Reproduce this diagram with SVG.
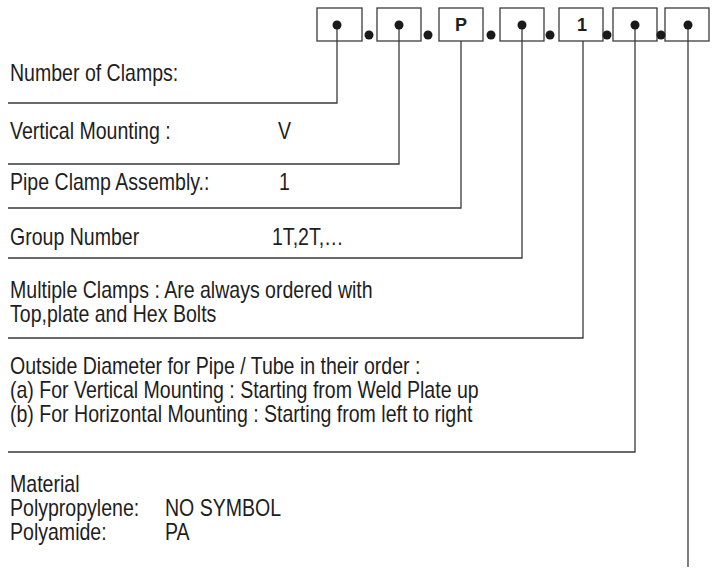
<svg xmlns="http://www.w3.org/2000/svg" width="716" height="570" viewBox="0 0 716 570">
<style>
.box{fill:#fff;stroke:#3c3c3c;stroke-width:1.3}
.dot{fill:#1a1a1a}
.ln{fill:none;stroke:#3a3a3a;stroke-width:1.3}
.t{font-family:"Liberation Sans",Arial,sans-serif;font-size:23px;fill:#1e1e1e}
.b{font-family:"Liberation Sans",Arial,sans-serif;font-size:18px;font-weight:bold;fill:#1e1e1e;text-anchor:middle}
</style>
<rect width="716" height="570" fill="#fff"/>
<g id="code">
<g id="box1"><rect class="box" x="317" y="8" width="45" height="33"/></g>
<g id="box2"><rect class="box" x="377" y="8" width="44" height="33"/></g>
<g id="box3"><rect class="box" x="439" y="8" width="44" height="33"/><text class="b" x="461" y="31">P</text></g>
<g id="box4"><rect class="box" x="500" y="8" width="44" height="33"/></g>
<g id="box5"><rect class="box" x="559" y="8" width="44" height="33"/><text class="b" x="582" y="31">1</text></g>
<g id="box6"><rect class="box" x="613" y="8" width="44" height="33"/></g>
<g id="box7"><rect class="box" x="665" y="8" width="44" height="33"/></g>
</g>
<g id="connectors">
<path class="ln" d="M337,25 V103 H8"/>
<path class="ln" d="M399,25 V164 H8"/>
<path class="ln" d="M461,41 V208 H8"/>
<path class="ln" d="M522,25 V258 H8"/>
<path class="ln" d="M583,41 V338 H8"/>
<path class="ln" d="M635,25 V452 H8"/>
<path class="ln" d="M688,25 V567"/>
</g>
<g id="dots">
<circle class="dot" cx="337" cy="25" r="4.5"/>
<circle class="dot" cx="399" cy="25" r="4.5"/>
<circle class="dot" cx="522" cy="25" r="4.5"/>
<circle class="dot" cx="635" cy="25" r="4.5"/>
<circle class="dot" cx="688" cy="25" r="4.5"/>
<circle class="dot" cx="369" cy="35" r="4.5"/>
<circle class="dot" cx="428" cy="35" r="4.5"/>
<circle class="dot" cx="491" cy="35" r="4.5"/>
<circle class="dot" cx="550" cy="35" r="4.5"/>
<circle class="dot" cx="607" cy="35" r="4.5"/>
<circle class="dot" cx="661" cy="35" r="4.5"/>
</g>
<g id="n1"><text class="t" transform="translate(10 81) scale(0.85 1)">Number of Clamps:</text></g>
<g id="n2"><text class="t" transform="translate(10 139) scale(0.85 1)">Vertical Mounting :</text><text class="t" transform="translate(278 139) scale(0.85 1)">V</text></g>
<g id="n3"><text class="t" transform="translate(10 190) scale(0.85 1)">Pipe Clamp Assembly.:</text><text class="t" transform="translate(279 190) scale(0.85 1)">1</text></g>
<g id="n4"><text class="t" transform="translate(10 245) scale(0.85 1)">Group Number</text><text class="t" transform="translate(272 245) scale(0.85 1)">1T,2T,…</text></g>
<g id="n5"><text class="t" transform="translate(10 298) scale(0.85 1)">Multiple Clamps : Are always ordered with</text><text class="t" transform="translate(10 322) scale(0.85 1)">Top,plate and Hex Bolts</text></g>
<g id="n6"><text class="t" transform="translate(10 374) scale(0.85 1)">Outside Diameter for Pipe / Tube in their order :</text><text class="t" transform="translate(10 398) scale(0.85 1)">(a) For Vertical Mounting : Starting from Weld Plate up</text><text class="t" transform="translate(10 422) scale(0.85 1)">(b) For Horizontal Mounting : Starting from left to right</text></g>
<g id="n7"><text class="t" transform="translate(10 492) scale(0.85 1)">Material</text><text class="t" transform="translate(10 516) scale(0.85 1)">Polypropylene:</text><text class="t" transform="translate(165 516) scale(0.85 1)">NO SYMBOL</text><text class="t" transform="translate(10 540) scale(0.85 1)">Polyamide:</text><text class="t" transform="translate(165 540) scale(0.85 1)">PA</text></g>
</svg>
